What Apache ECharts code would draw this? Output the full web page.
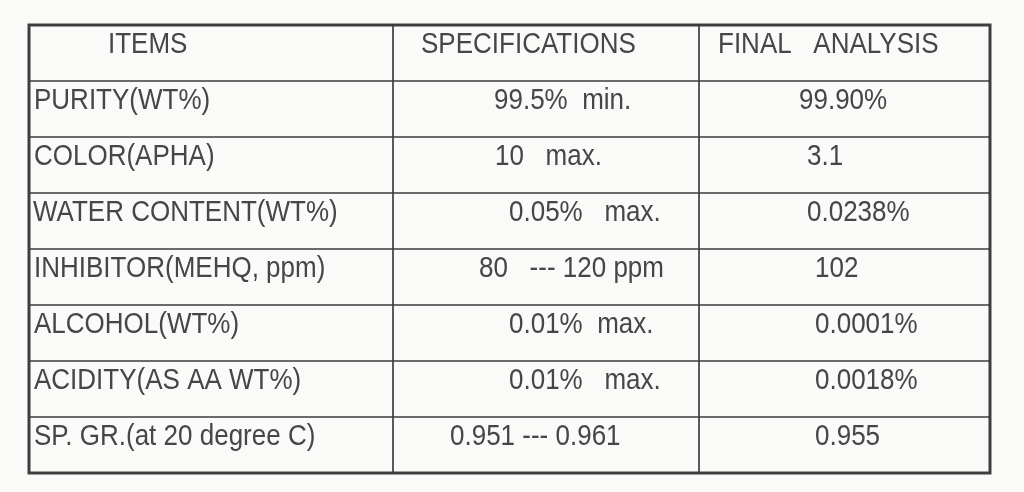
<!DOCTYPE html>
<html>
<head>
<meta charset="utf-8">
<script src="https://cdn.jsdelivr.net/npm/echarts@6/dist/echarts.min.js"></script>
<style>
html,body{margin:0;padding:0;background:#fafaf9;}
#chart{width:1024px;height:492px;}
</style>
</head>
<body>
<div id="chart"></div>
<script>
// ---- data ----
const headers = ['ITEMS', 'SPECIFICATIONS', 'FINAL   ANALYSIS'];
const items = [
  'PURITY(WT%)',
  'COLOR(APHA)',
  'WATER CONTENT(WT%)',
  'INHIBITOR(MEHQ, ppm)',
  'ALCOHOL(WT%)',
  'ACIDITY(AS AA WT%)',
  'SP. GR.(at 20 degree C)'
];
const specifications = [
  '99.5%  min.',
  '10   max.',
  '0.05%   max.',
  '80   --- 120 ppm',
  '0.01%  max.',
  '0.01%   max.',
  '0.951 --- 0.961'
];
const finalAnalysis = [
  '99.90%',
  '3.1',
  '0.0238%',
  '102',
  '0.0001%',
  '0.0018%',
  '0.955'
];

// ---- layout (not data) ----
const colWidths = [364, 306, 291];
const textPad = [
  [79, 5, 5, 4, 5, 5, 5, 5],
  [28, 101, 102, 116, 86, 116, 116, 57],
  [19, 100, 108, 108, 116, 116, 116, 116]
];
const colEdges = [0];
colWidths.forEach(w => colEdges.push(colEdges[colEdges.length - 1] + w));

const rowNames = ['header'].concat(items);
const columns = [items, specifications, finalAnalysis];

const cells = [];
for (let r = 0; r < rowNames.length; r++) {
  for (let c = 0; c < columns.length; c++) {
    const txt = r === 0 ? headers[c] : columns[c][r - 1];
    cells.push([c, r, txt]);
  }
}

const chart = echarts.init(document.getElementById('chart'), null, {renderer: 'canvas'});
chart.setOption({
  backgroundColor: '#fafaf9',
  animation: false,
  grid: {
    left: 29, right: 34, top: 25, bottom: 19,
    show: true, borderColor: '#404040', borderWidth: 3, backgroundColor: 'transparent'
  },
  xAxis: {
    type: 'value', min: 0, max: colEdges[colEdges.length - 1],
    show: false
  },
  yAxis: {
    type: 'category', data: rowNames, inverse: true, show: false
  },
  series: [{
    type: 'custom',
    data: cells,
    encode: {x: 0, y: 1},
    renderItem: function (params, api) {
      const c = api.value(0);
      const r = api.value(1);
      const txt = cells[params.dataIndex][2];
      const left = api.coord([colEdges[c], r]);
      const right = api.coord([colEdges[c + 1], r]);
      const h = api.size([0, 1])[1];
      const top = left[1] - h / 2;
      return {
        type: 'group',
        children: [{
          type: 'rect',
          shape: {x: left[0], y: top, width: right[0] - left[0], height: h},
          style: {fill: null, stroke: '#3c3c3c', lineWidth: 1.2}
        }, {
          type: 'text',
          x: left[0] + textPad[c][r],
          y: top + 20.5,
          scaleY: 1.1,
          style: {
            text: txt,
            fill: '#464646',
            font: '26px "Liberation Sans", Arial, sans-serif',
            align: 'left',
            verticalAlign: 'middle'
          }
        }]
      };
    }
  }]
});
</script>
</body>
</html>
